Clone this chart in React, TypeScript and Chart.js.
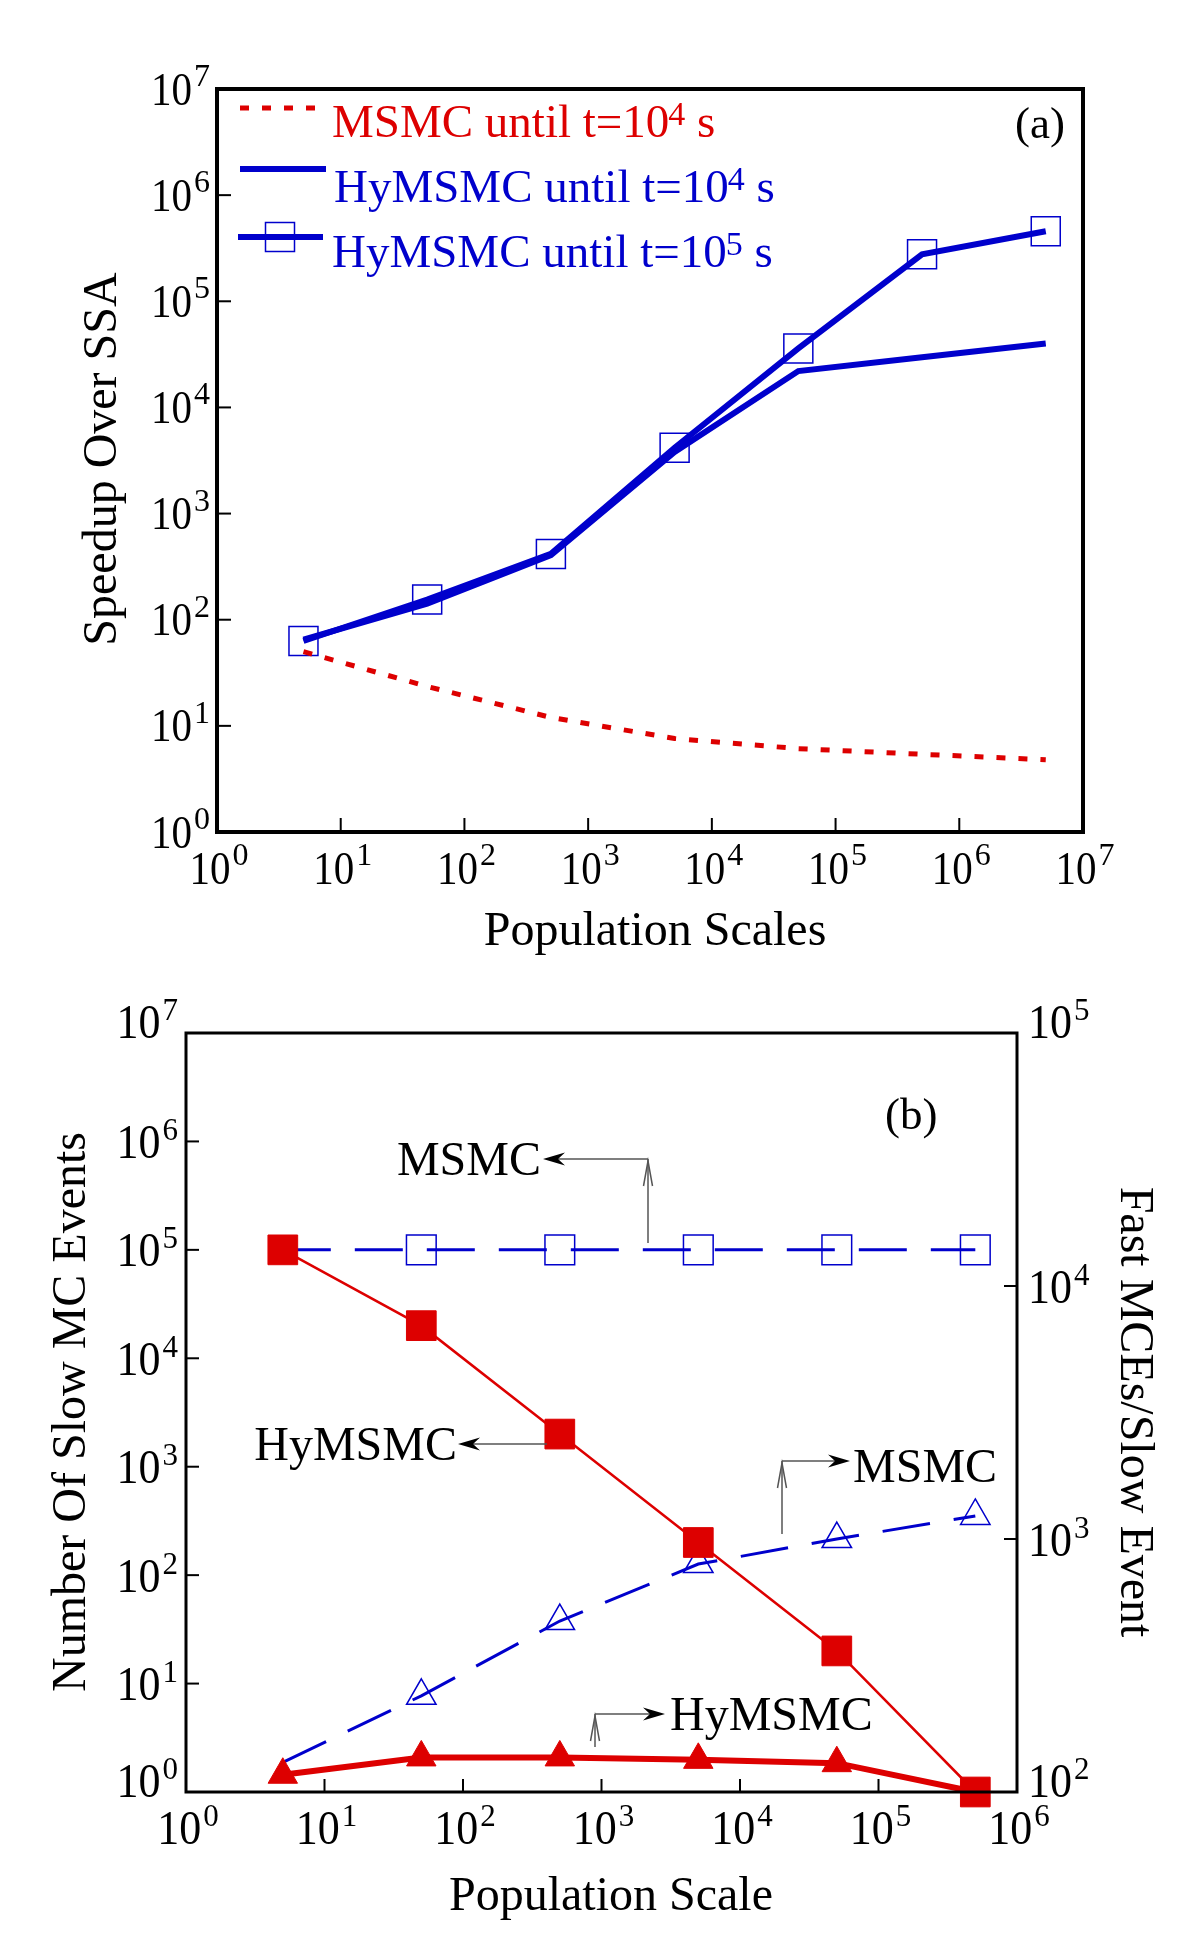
import React, { useEffect, useRef } from 'react';
import { Chart, registerables } from 'chart.js';

Chart.register(...registerables);

const FONT = '"Liberation Serif", "Times New Roman", Times, serif';
const RED = '#dd0000';
const BLUE = '#0000cc';

// ---------- Panel (a) data ----------
const popScalesA = [5, 50, 500, 5000, 50000, 500000, 5000000];
const speedupMSMC = [50, 23.5, 12, 7.6, 6.1, 5.4, 4.8];
const speedupHy4 = [65, 142, 405, 3800, 22000, 29700, 40000];
const speedupHy5 = [63, 155, 417, 4170, 36000, 277000, 457000];
const decadesAX = [0, 1, 2, 3, 4, 5, 6, 7];
const decadesAY = [0, 1, 2, 3, 4, 5, 6, 7];

// ---------- Panel (b) data ----------
const popScalesB = [5, 50, 500, 5000, 50000, 500000];
const slowEventsHy = [100000, 20000, 2000, 200, 20, 1];
const slowEventsMSMC = [100000, 100000, 100000, 100000, 100000, 100000];
const fastPerSlowHy = [117, 137, 137, 134, 130, 100];
const fastPerSlowMSMC = [131, 240, 474, 796, 1000, 1233];
const decadesBX = [0, 1, 2, 3, 4, 5, 6];
const decadesBLeft = [0, 1, 2, 3, 4, 5, 6, 7];
const decadesBRight = [2, 3, 4, 5];

const f = (s: number) => `${s}px ${FONT}`;
const STRETCH = 1.12;

function pts(xs: number[], ys: number[]) {
  return xs.map((x, i) => ({ x, y: ys[i] }));
}

function drawPow(ctx: any, exp: number, x: number, y: number, align: string, base: number, sup: number, raise: number) {
  ctx.font = f(base);
  const w1 = ctx.measureText('10').width;
  ctx.font = f(sup);
  const w2 = ctx.measureText(String(exp)).width;
  const gap = 2;
  const w = w1 + gap + w2;
  const x0 = align === 'center' ? x - w / 2 : align === 'right' ? x - w : x;
  ctx.textAlign = 'left';
  ctx.textBaseline = 'alphabetic';
  ctx.save();
  ctx.translate(x0, y);
  ctx.scale(1, STRETCH);
  ctx.font = f(base);
  ctx.fillText('10', 0, 0);
  ctx.restore();
  ctx.font = f(sup);
  ctx.fillText(String(exp), x0 + w1 + gap, y - raise);
}

function drawRich(ctx: any, x: number, y: number, main: string, exp: string, tail: string, size: number, supSize: number, raise: number) {
  ctx.textAlign = 'left';
  ctx.textBaseline = 'alphabetic';
  ctx.font = f(size);
  ctx.fillText(main, x, y);
  let cx = x + ctx.measureText(main).width - 1;
  ctx.font = f(supSize);
  ctx.fillText(exp, cx, y - raise);
  cx += ctx.measureText(exp).width;
  ctx.font = f(size);
  ctx.fillText(tail, cx, y);
}

function seg(ctx: any, x1: number, y1: number, x2: number, y2: number) {
  ctx.beginPath();
  ctx.moveTo(x1, y1);
  ctx.lineTo(x2, y2);
  ctx.stroke();
}

function arrowHead(ctx: any, tipX: number, tipY: number, dir: number) {
  const L = 22, W = 6.5, N = 7;
  ctx.beginPath();
  ctx.moveTo(tipX, tipY);
  ctx.lineTo(tipX - dir * L, tipY - W);
  ctx.lineTo(tipX - dir * (L - N), tipY);
  ctx.lineTo(tipX - dir * L, tipY + W);
  ctx.closePath();
  ctx.fill();
}

function chevronUp(ctx: any, x: number, y: number) {
  ctx.beginPath();
  ctx.moveTo(x - 4.5, y + 27);
  ctx.lineTo(x, y + 2);
  ctx.lineTo(x + 4.5, y + 27);
  ctx.stroke();
}

const panelAPlugin = {
  id: 'panelA',
  afterDraw(chart: any) {
    const { ctx, chartArea: a, scales } = chart;
    const xs = scales.x, ys = scales.y;
    ctx.save();
    ctx.strokeStyle = '#000';
    ctx.lineWidth = 4;
    ctx.strokeRect(a.left, a.top, a.right - a.left, a.bottom - a.top);
    ctx.lineWidth = 2;
    decadesAX.forEach((d) => {
      if (d === decadesAX[0] || d === decadesAX[decadesAX.length - 1]) return;
      const px = xs.getPixelForValue(Math.pow(10, d));
      seg(ctx, px, a.bottom, px, a.bottom - 14);
    });
    decadesAY.forEach((d) => {
      if (d === decadesAY[0] || d === decadesAY[decadesAY.length - 1]) return;
      const py = ys.getPixelForValue(Math.pow(10, d));
      seg(ctx, a.left, py, a.left + 14, py);
    });
    ctx.fillStyle = '#000';
    decadesAX.forEach((d) => {
      drawPow(ctx, d, xs.getPixelForValue(Math.pow(10, d)) + 2, a.bottom + 52, 'center', 41, 32, 19);
    });
    decadesAY.forEach((d) => {
      drawPow(ctx, d, a.left - 7, ys.getPixelForValue(Math.pow(10, d)) + 15.5, 'right', 41, 32, 18.5);
    });
    // axis titles
    ctx.font = f(48);
    ctx.textAlign = 'center';
    ctx.textBaseline = 'alphabetic';
    ctx.fillText('Population Scales', 655, 945);
    ctx.save();
    ctx.translate(116, 459);
    ctx.rotate(-Math.PI / 2);
    ctx.fillText('Speedup Over SSA', 0, 0);
    ctx.restore();
    // panel label
    ctx.font = f(45);
    ctx.textAlign = 'left';
    ctx.fillText('(a)', 1015, 138);
    // legend
    ctx.lineCap = 'butt';
    ctx.strokeStyle = RED;
    ctx.lineWidth = 5;
    ctx.setLineDash([9, 13]);
    seg(ctx, 240, 108, 326, 108);
    ctx.setLineDash([]);
    ctx.strokeStyle = BLUE;
    ctx.lineWidth = 6;
    seg(ctx, 240, 169, 326, 169);
    seg(ctx, 238, 237, 323, 237);
    ctx.lineWidth = 1.5;
    ctx.strokeRect(280 - 14.5, 237 - 14.5, 29, 29);
    ctx.fillStyle = RED;
    drawRich(ctx, 332, 137, 'MSMC until t=10', '4', ' s', 47, 34, 12);
    ctx.fillStyle = BLUE;
    drawRich(ctx, 334, 202, 'HyMSMC until t=10', '4', ' s', 47, 34, 12);
    drawRich(ctx, 332, 267, 'HyMSMC until t=10', '5', ' s', 47, 34, 12);
    ctx.restore();
  },
};

const panelBPlugin = {
  id: 'panelB',
  afterDraw(chart: any) {
    const { ctx, chartArea: a, scales } = chart;
    const xs = scales.x, ys = scales.y, y2 = scales.y2;
    ctx.save();
    ctx.strokeStyle = '#000';
    ctx.lineWidth = 3;
    ctx.strokeRect(a.left, a.top, a.right - a.left, a.bottom - a.top);
    ctx.lineWidth = 2;
    decadesBX.forEach((d) => {
      if (d === decadesBX[0] || d === decadesBX[decadesBX.length - 1]) return;
      const px = xs.getPixelForValue(Math.pow(10, d));
      seg(ctx, px, a.bottom, px, a.bottom - 13);
    });
    decadesBLeft.forEach((d) => {
      if (d === decadesBLeft[0] || d === decadesBLeft[decadesBLeft.length - 1]) return;
      const py = ys.getPixelForValue(Math.pow(10, d));
      seg(ctx, a.left, py, a.left + 13, py);
    });
    decadesBRight.forEach((d) => {
      if (d === decadesBRight[0] || d === decadesBRight[decadesBRight.length - 1]) return;
      const py = y2.getPixelForValue(Math.pow(10, d));
      seg(ctx, a.right, py, a.right - 13, py);
    });
    ctx.fillStyle = '#000';
    decadesBX.forEach((d) => {
      drawPow(ctx, d, xs.getPixelForValue(Math.pow(10, d)) + 2, a.bottom + 52, 'center', 44, 31, 18);
    });
    decadesBLeft.forEach((d, i) => {
      const shift = i === 0 || i === decadesBLeft.length - 1 ? -12 : 0;
      drawPow(ctx, d, a.left - 8, ys.getPixelForValue(Math.pow(10, d)) + 16.5 + shift, 'right', 44, 31, 18);
    });
    decadesBRight.forEach((d, i) => {
      const shift = i === 0 || i === decadesBRight.length - 1 ? -12 : 0;
      drawPow(ctx, d, a.right + 11, y2.getPixelForValue(Math.pow(10, d)) + 16.5 + shift, 'left', 44, 31, 18);
    });
    // titles
    ctx.font = f(48);
    ctx.textAlign = 'center';
    ctx.textBaseline = 'alphabetic';
    ctx.fillText('Population Scale', 611, 940);
    ctx.save();
    ctx.translate(85, 442);
    ctx.rotate(-Math.PI / 2);
    ctx.fillText('Number Of Slow MC Events', 0, 0);
    ctx.restore();
    ctx.save();
    ctx.translate(1121, 442);
    ctx.rotate(Math.PI / 2);
    ctx.fillText('Fast MCEs/Slow Event', 0, 0);
    ctx.restore();
    ctx.font = f(45);
    ctx.textAlign = 'left';
    ctx.fillText('(b)', 885, 159);
    // annotations
    ctx.strokeStyle = '#555';
    ctx.lineWidth = 1.5;
    ctx.fillStyle = '#000';
    // MSMC <- (slow events)
    seg(ctx, 648, 273, 648, 189);
    seg(ctx, 648, 189, 556, 189);
    chevronUp(ctx, 648, 189);
    arrowHead(ctx, 543, 189, -1);
    // HyMSMC <- (slow events)
    seg(ctx, 547, 474, 470, 474);
    arrowHead(ctx, 458, 474, -1);
    // -> MSMC (fast per slow)
    seg(ctx, 782, 564, 782, 491);
    seg(ctx, 782, 491, 838, 491);
    chevronUp(ctx, 782, 491);
    arrowHead(ctx, 850, 491, 1);
    // -> HyMSMC (fast per slow)
    seg(ctx, 595, 777, 595, 744);
    seg(ctx, 595, 744, 653, 744);
    chevronUp(ctx, 595, 744);
    arrowHead(ctx, 665, 744, 1);
    ctx.font = f(48);
    ctx.textAlign = 'right';
    ctx.fillText('MSMC', 541, 205);
    ctx.fillText('HyMSMC', 457, 490);
    ctx.textAlign = 'left';
    ctx.fillText('MSMC', 853, 512);
    ctx.fillText('HyMSMC', 670, 760);
    ctx.restore();
  },
};

function configA(): any {
  return {
    type: 'line',
    data: {
      datasets: [
        {
          label: 'MSMC until t=10^4 s',
          data: pts(popScalesA, speedupMSMC),
          borderColor: RED,
          borderWidth: 5,
          borderDash: [9, 13],
          pointRadius: 0,
          fill: false,
          clip: false,
        },
        {
          label: 'HyMSMC until t=10^4 s',
          data: pts(popScalesA, speedupHy4),
          borderColor: BLUE,
          borderWidth: 6,
          pointRadius: 0,
          fill: false,
          clip: false,
        },
        {
          label: 'HyMSMC until t=10^5 s',
          data: pts(popScalesA, speedupHy5),
          borderColor: BLUE,
          borderWidth: 6,
          pointStyle: 'rect',
          pointRadius: 20.5,
          pointBorderWidth: 1.5,
          pointBorderColor: BLUE,
          pointBackgroundColor: 'rgba(0,0,0,0)',
          fill: false,
          clip: false,
        },
      ],
    },
    options: {
      responsive: false,
      devicePixelRatio: 1,
      animation: false,
      events: [],
      layout: { padding: { left: 217, right: 117, top: 89, bottom: 138 } },
      plugins: { legend: { display: false }, tooltip: { enabled: false } },
      scales: {
        x: { type: 'logarithmic', min: 1, max: 1e7, display: false },
        y: { type: 'logarithmic', min: 1, max: 1e7, display: false },
      },
    },
    plugins: [panelAPlugin],
  };
}

function configB(): any {
  return {
    type: 'line',
    data: {
      datasets: [
        {
          label: 'HyMSMC slow events',
          data: pts(popScalesB, slowEventsHy),
          yAxisID: 'y',
          borderColor: RED,
          borderWidth: 2.5,
          pointStyle: 'rect',
          pointRadius: 21,
          pointBorderWidth: 1,
          pointBorderColor: RED,
          pointBackgroundColor: RED,
          fill: false,
          clip: false,
        },
        {
          label: 'HyMSMC fast per slow',
          data: pts(popScalesB, fastPerSlowHy),
          yAxisID: 'y2',
          borderColor: RED,
          borderWidth: 6,
          pointStyle: 'triangle',
          pointRadius: [17, 17, 17, 17, 17, 0],
          pointBorderWidth: 1,
          pointBorderColor: RED,
          pointBackgroundColor: RED,
          fill: false,
          clip: false,
        },
        {
          label: 'MSMC slow events',
          data: pts(popScalesB, slowEventsMSMC),
          yAxisID: 'y',
          borderColor: BLUE,
          borderWidth: 3,
          borderDash: [48, 24],
          pointStyle: 'rect',
          pointRadius: [0, 21, 21, 21, 21, 21],
          pointBorderWidth: 1.5,
          pointBorderColor: BLUE,
          pointBackgroundColor: 'rgba(0,0,0,0)',
          fill: false,
          clip: false,
        },
        {
          label: 'MSMC fast per slow',
          data: pts(popScalesB, fastPerSlowMSMC),
          yAxisID: 'y2',
          borderColor: BLUE,
          borderWidth: 3,
          borderDash: [48, 24],
          pointStyle: 'triangle',
          pointRadius: [0, 17, 17, 17, 17, 17],
          pointBorderWidth: 1.5,
          pointBorderColor: BLUE,
          pointBackgroundColor: 'rgba(0,0,0,0)',
          fill: false,
          clip: false,
        },
      ],
    },
    options: {
      responsive: false,
      devicePixelRatio: 1,
      animation: false,
      events: [],
      layout: { padding: { left: 186, right: 183, top: 63, bottom: 149 } },
      plugins: { legend: { display: false }, tooltip: { enabled: false } },
      scales: {
        x: { type: 'logarithmic', min: 1, max: 1e6, display: false },
        y: { type: 'logarithmic', position: 'left', min: 1, max: 1e7, display: false },
        y2: { type: 'logarithmic', position: 'right', min: 100, max: 1e5, display: false },
      },
    },
    plugins: [panelBPlugin],
  };
}

export default function App() {
  const refA = useRef<HTMLCanvasElement>(null);
  const refB = useRef<HTMLCanvasElement>(null);
  useEffect(() => {
    const cA = new Chart(refA.current as HTMLCanvasElement, configA());
    const cB = new Chart(refB.current as HTMLCanvasElement, configB());
    return () => {
      cA.destroy();
      cB.destroy();
    };
  }, []);
  return (
    <div style={{ position: 'absolute', left: 0, top: 0, width: 1200, height: 1941, background: '#fff' }}>
      <canvas ref={refA} width={1200} height={970} style={{ position: 'absolute', left: 0, top: 0, width: 1200, height: 970 }} />
      <canvas ref={refB} width={1200} height={971} style={{ position: 'absolute', left: 0, top: 970, width: 1200, height: 971 }} />
    </div>
  );
}
